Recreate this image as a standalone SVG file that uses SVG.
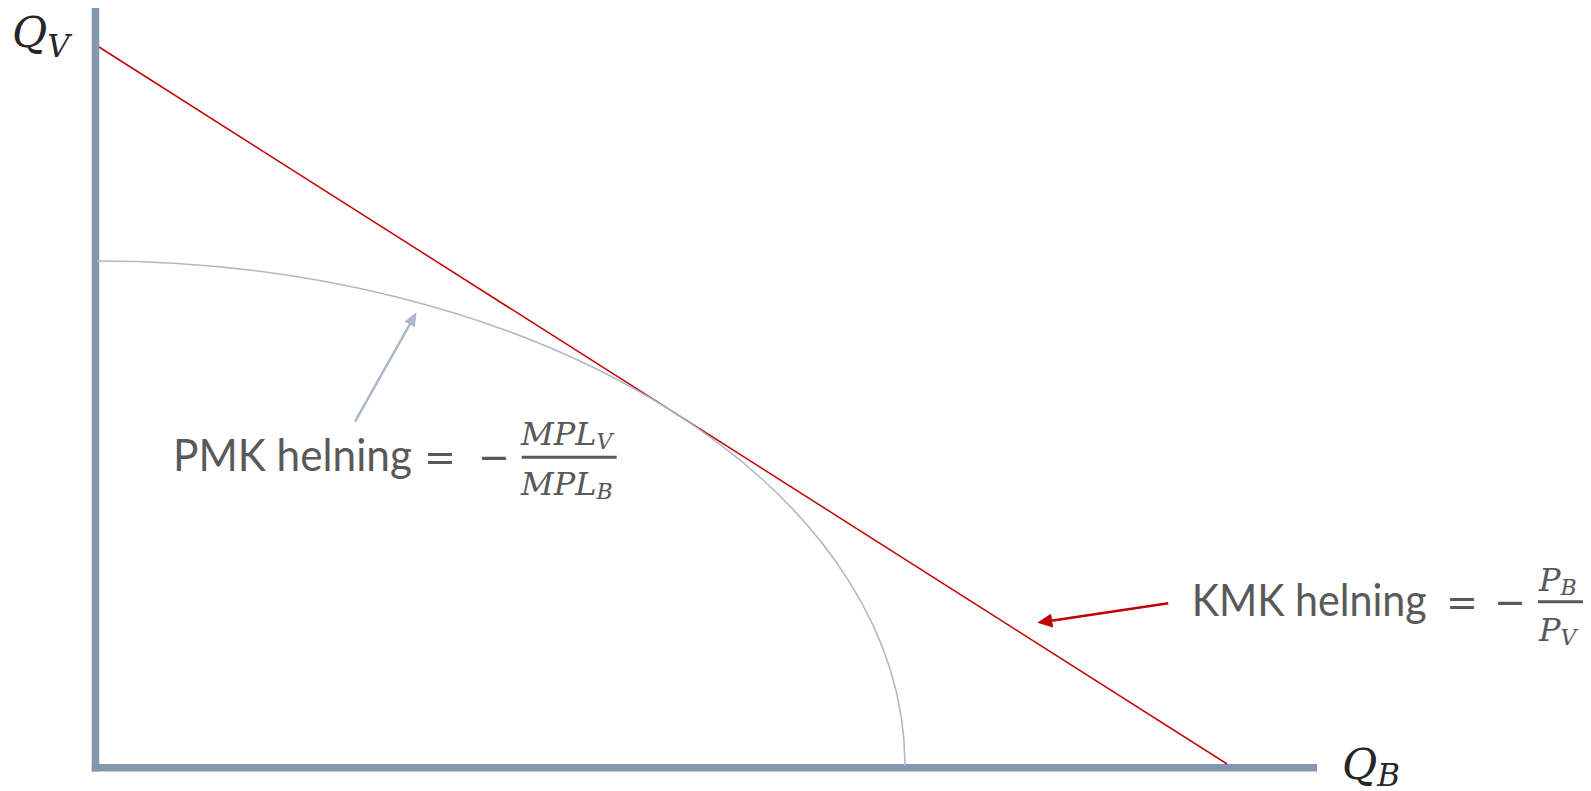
<svg xmlns="http://www.w3.org/2000/svg" width="1591" height="791" viewBox="0 0 1591 791">
<style>
.axis{stroke:#8497B0;stroke-width:7.5;fill:none}
.budget{stroke:#C00000;stroke-width:1.5;fill:none}
.ppf{stroke:#ADB9CA;stroke-width:1.6;fill:none}
.lbl{font-family:Lato,"Open Sans",sans-serif;font-size:45px;fill:#595959}
.op{font-family:"DejaVu Sans",sans-serif;font-size:38px;fill:#595959;text-anchor:middle}
.m{font-family:"DejaVu Serif",serif;font-style:italic;fill:#595959}
.ax{font-family:"DejaVu Serif",serif;font-style:italic;fill:#262626}
.bar{stroke:#595959;stroke-width:3}
</style>
<defs>
<marker id="hg" markerUnits="userSpaceOnUse" markerWidth="14" markerHeight="12" refX="6" refY="6" orient="auto"><path d="M0,0 L14,6 L0,12 z" fill="#ADB9CA"/></marker>
<marker id="hr" markerUnits="userSpaceOnUse" markerWidth="15" markerHeight="14" refX="6" refY="7" orient="auto"><path d="M0,0 L15,7 L0,14 z" fill="#C00000"/></marker>
</defs>
<rect width="1591" height="791" fill="#fff"/>
<g id="axes">
<line class="axis" x1="95.5" y1="8" x2="95.5" y2="771.5"/>
<line class="axis" x1="91.75" y1="767.7" x2="1317" y2="767.7"/>
</g>
<g id="label-qv"><text class="ax" x="12" y="47" font-size="43">Q<tspan font-size="31" dy="10">V</tspan></text></g>
<g id="label-qb"><text class="ax" x="1342" y="779" font-size="43">Q<tspan font-size="31" dy="7">B</tspan></text></g>
<g id="budget-line"><line class="budget" x1="99" y1="47" x2="1227" y2="764"/></g>
<g id="ppf-curve"><path class="ppf" d="M97,261 A808,505 0 0 1 905,766"/></g>
<g id="connectors">
<line x1="355" y1="421.7" x2="412.6" y2="319.3" stroke="#ADB9CA" stroke-width="2.5" marker-end="url(#hg)"/>
<line x1="1168.3" y1="603.3" x2="1046.2" y2="621.4" stroke="#C00000" stroke-width="2.5" marker-end="url(#hr)"/>
</g>
<g id="pmk-label">
<text class="lbl" x="173" y="471" textLength="239" lengthAdjust="spacingAndGlyphs">PMK helning</text>
<text class="op" x="440" y="470">=</text>
<text class="op" x="494" y="470">−</text>
<line class="bar" x1="521.7" y1="457.3" x2="616.7" y2="457.3"/>
<text class="m" x="521" y="445" font-size="32">MPL<tspan font-size="22" dy="4">V</tspan></text>
<text class="m" x="521" y="495" font-size="32">MPL<tspan font-size="22" dy="4">B</tspan></text>
</g>
<g id="kmk-label">
<text class="lbl" x="1191.7" y="616" textLength="235" lengthAdjust="spacingAndGlyphs">KMK helning</text>
<text class="op" x="1462" y="615">=</text>
<text class="op" x="1510" y="615">−</text>
<line class="bar" x1="1538" y1="601.7" x2="1583" y2="601.7"/>
<text class="m" x="1539" y="591" font-size="32">P<tspan font-size="22" dy="4">B</tspan></text>
<text class="m" x="1539" y="641" font-size="32">P<tspan font-size="22" dy="4">V</tspan></text>
</g>
</svg>
